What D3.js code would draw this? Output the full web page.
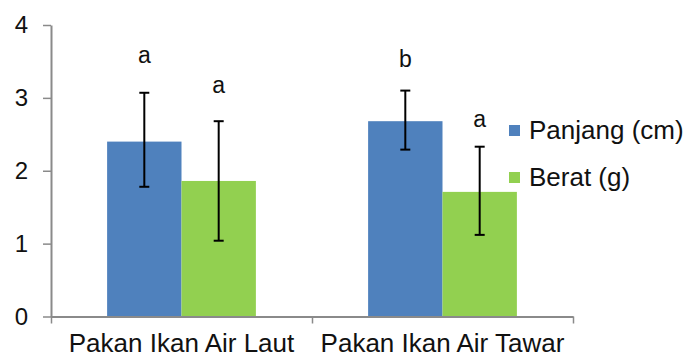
<!DOCTYPE html>
<html><head><meta charset="utf-8">
<script src="https://cdn.jsdelivr.net/npm/d3@7"></script>
<style>body{margin:0;background:#fff}svg{display:block}text{font-family:"Liberation Sans",Arial,sans-serif;fill:#111}</style>
</head><body>
<script>
const categories = ["Pakan Ikan Air Laut", "Pakan Ikan Air Tawar"];
const series = ["Panjang (cm)", "Berat (g)"];
const colors = ["#4F81BD", "#92D050"];
const panjang = [2.40, 2.68];
const berat = [1.86, 1.71];
const panjangLow = [1.78, 2.29];
const panjangHigh = [3.07, 3.10];
const beratLow = [1.04, 1.12];
const beratHigh = [2.68, 2.33];
const panjangLetters = ["a", "b"];
const beratLetters = ["a", "a"];
const panjangLetterY = [3.48, 3.42];
const beratLetterY = [3.07, 2.60];
const yTicks = [0, 1, 2, 3, 4];

(function () {
const W = 689, H = 358;
const svg = d3.select("body").append("svg").attr("width", W).attr("height", H);
const mLeft = 51, mRight = 573, mTop = 25, mBottom = 316.5;

const x = d3.scaleBand().domain(categories).range([mLeft, mRight]);
const bw = x.bandwidth();
const x1 = d3.scaleBand().domain(series).range([bw * 0.215, bw * 0.785]);
const y = d3.scaleLinear().domain([0, 4]).range([mBottom, mTop]);

const rows = categories.map((c, i) => ({
  cat: c,
  vals: [
    {s: series[0], v: panjang[i], lo: panjangLow[i], hi: panjangHigh[i], letter: panjangLetters[i], ly: panjangLetterY[i], color: colors[0]},
    {s: series[1], v: berat[i], lo: beratLow[i], hi: beratHigh[i], letter: beratLetters[i], ly: beratLetterY[i], color: colors[1]}
  ]
}));

const axisColor = "#8a8a8a";

const g = svg.selectAll("g.cat").data(rows).join("g").attr("class", "cat")
  .attr("transform", d => `translate(${x(d.cat)},0)`);
g.selectAll("rect").data(d => d.vals).join("rect")
  .attr("x", d => x1(d.s)).attr("width", x1.bandwidth())
  .attr("y", d => y(d.v)).attr("height", d => y(0) - y(d.v))
  .attr("fill", d => d.color);

const xb = d3.scaleLinear().domain([0, categories.length]).range([mLeft, mRight]);
const xAxis = svg.append("g").attr("transform", `translate(0,${mBottom})`)
  .call(d3.axisBottom(xb).tickValues(d3.range(categories.length + 1)).tickFormat("").tickSize(7).tickSizeOuter(0));
xAxis.select(".domain").attr("stroke", axisColor).attr("stroke-width", 2);
xAxis.selectAll(".tick line").attr("stroke", axisColor).attr("stroke-width", 1.5);

svg.selectAll("text.xlab").data(categories).join("text").attr("class", "xlab")
  .attr("x", d => x(d) + bw / 2).attr("y", 352)
  .attr("text-anchor", "middle").attr("font-size", 26).text(d => d);

const yAxis = svg.append("g").attr("transform", `translate(${mLeft},0)`)
  .call(d3.axisLeft(y).tickValues(yTicks).tickFormat(d3.format("d")).tickSize(8).tickSizeOuter(0).tickPadding(15));
yAxis.select(".domain").attr("stroke", axisColor).attr("stroke-width", 2);
yAxis.selectAll(".tick line").attr("stroke", axisColor).attr("stroke-width", 1.5);
yAxis.selectAll(".tick text").attr("font-size", 24).attr("font-family", "Liberation Sans, Arial, sans-serif").attr("fill", "#111");

const eb = g.selectAll("g.err").data(d => d.vals).join("g").attr("class", "err")
  .attr("transform", d => `translate(${x1(d.s) + x1.bandwidth() / 2},0)`);
eb.append("line").attr("x1", 0).attr("x2", 0).attr("y1", d => y(d.lo)).attr("y2", d => y(d.hi))
  .attr("stroke", "#000").attr("stroke-width", 2);
eb.append("line").attr("x1", -5).attr("x2", 5).attr("y1", d => y(d.lo)).attr("y2", d => y(d.lo))
  .attr("stroke", "#000").attr("stroke-width", 2);
eb.append("line").attr("x1", -5).attr("x2", 5).attr("y1", d => y(d.hi)).attr("y2", d => y(d.hi))
  .attr("stroke", "#000").attr("stroke-width", 2);
eb.append("text").attr("x", 0).attr("y", d => y(d.ly)).attr("text-anchor", "middle")
  .attr("font-size", 23).text(d => d.letter);

const lg = svg.selectAll("g.leg").data(series).join("g").attr("class", "leg")
  .attr("transform", (d, i) => `translate(509,${125 + i * 47})`);
lg.append("rect").attr("width", 11).attr("height", 11).attr("fill", (d, i) => colors[i]);
lg.append("text").attr("x", 20).attr("y", 14).attr("font-size", 26).text(d => d);
})();
</script>
</body></html>
